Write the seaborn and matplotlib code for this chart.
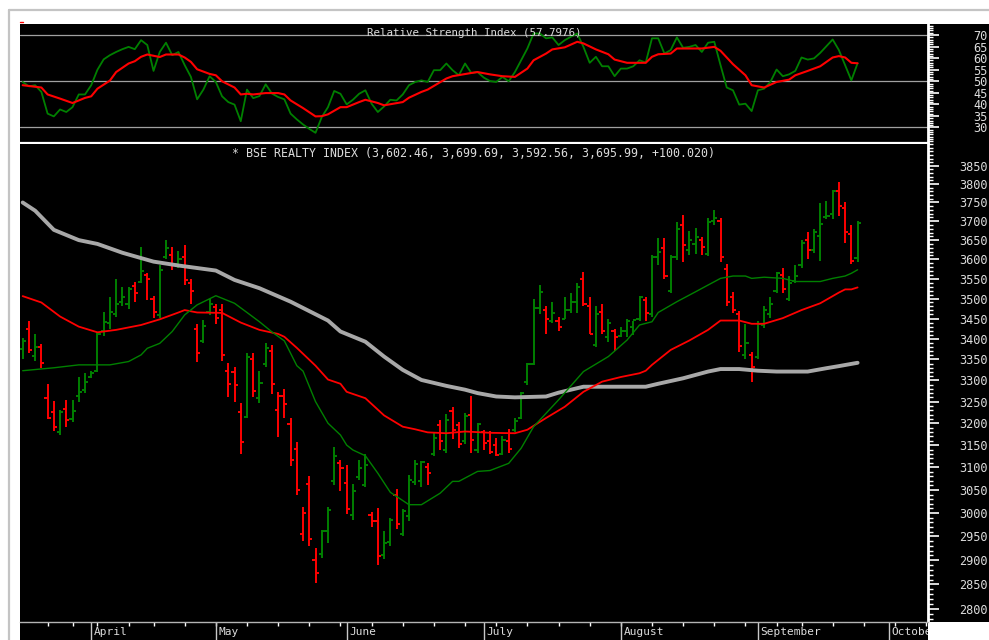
#bse realty daily bars with moving averages and RSI panel
import pandas as pd
import numpy as np
import matplotlib
matplotlib.use('Agg')
import matplotlib.pyplot as plt
import seaborn as sns
from matplotlib.ticker import FixedLocator, FuncFormatter, NullFormatter
from matplotlib.lines import Line2D
from matplotlib.patches import Rectangle
import warnings
warnings.filterwarnings('ignore')

# trading calendar (sessions are the x axis, holidays leave no gap)
first_session = '2010-03-16'
axis_end = '2010-10-12'
holidays = ['2010-03-24', '2010-04-02', '2010-04-14', '2010-09-10']

opens = [3376, 3425, 3358, 3380, 3258, 3225, 3180, 3232, 3210, 3262,
         3278, 3308, 3322, 3420, 3440, 3462, 3490, 3485, 3532, 3542,
         3560, 3498, 3458, 3605, 3612, 3588, 3605, 3540, 3425, 3395,
         3465, 3478, 3470, 3322, 3320, 3226, 3215, 3350, 3258, 3340,
         3370, 3230, 3262, 3198, 3141, 2955, 3063, 2900, 2912, 2961,
         3070, 3110, 3065, 2995, 3078, 3060, 2996, 2983, 2910, 2938,
         3040, 2955, 2993, 3068, 3070, 3100, 3130, 3195, 3140, 3228,
         3195, 3160, 3220, 3140, 3180, 3160, 3150, 3130, 3160, 3185,
         3212, 3295, 3340, 3475, 3470, 3445, 3445, 3450, 3470, 3490,
         3550, 3480, 3385, 3465, 3405, 3418, 3408, 3418, 3430, 3448,
         3495, 3462, 3605, 3630, 3520, 3605, 3690, 3625, 3640, 3650,
         3615, 3700, 3700, 3575, 3505, 3460, 3360, 3360, 3355, 3435,
         3460, 3520, 3560, 3500, 3545, 3585, 3650, 3625, 3660, 3710,
         3720, 3780, 3735, 3665, 3602.46]
highs = [3402, 3445, 3411, 3387, 3292, 3251, 3230, 3254, 3254, 3308,
         3318, 3322, 3417, 3466, 3503, 3550, 3530, 3530, 3542, 3632,
         3565, 3506, 3585, 3650, 3632, 3622, 3637, 3550, 3437, 3447,
         3500, 3487, 3487, 3342, 3332, 3246, 3366, 3366, 3322, 3390,
         3385, 3273, 3280, 3213, 3158, 3012, 3080, 2926, 2963, 3014,
         3145, 3117, 3106, 3063, 3117, 3130, 3002, 3010, 2961, 2990,
         3052, 3008, 3083, 3117, 3115, 3110, 3177, 3208, 3222, 3238,
         3203, 3224, 3263, 3201, 3185, 3183, 3167, 3171, 3186, 3211,
         3273, 3342, 3498, 3535, 3480, 3490, 3454, 3503, 3513, 3540,
         3568, 3503, 3482, 3487, 3450, 3423, 3428, 3450, 3445, 3506,
         3503, 3610, 3655, 3655, 3610, 3697, 3716, 3675, 3683, 3658,
         3708, 3729, 3708, 3587, 3516, 3469, 3437, 3368, 3445, 3480,
         3503, 3568, 3578, 3558, 3585, 3650, 3672, 3678, 3749, 3753,
         3785, 3805, 3751, 3690, 3699.69]
lows = [3350, 3366, 3347, 3330, 3210, 3183, 3173, 3192, 3203, 3250,
        3270, 3306, 3320, 3408, 3425, 3455, 3480, 3473, 3492, 3540,
        3497, 3452, 3452, 3600, 3572, 3578, 3535, 3485, 3345, 3390,
        3458, 3437, 3347, 3260, 3249, 3131, 3211, 3260, 3246, 3332,
        3268, 3169, 3213, 3102, 3038, 2940, 2930, 2853, 2905, 2937,
        3060, 3048, 2998, 2984, 3072, 3056, 2971, 2890, 2902, 2930,
        2966, 2951, 2983, 3061, 3056, 3061, 3125, 3138, 3132, 3165,
        3144, 3153, 3132, 3132, 3138, 3129, 3125, 3127, 3132, 3180,
        3210, 3290, 3337, 3460, 3413, 3440, 3418, 3449, 3464, 3464,
        3480, 3411, 3380, 3413, 3393, 3371, 3404, 3404, 3409, 3443,
        3443, 3455, 3585, 3550, 3513, 3597, 3593, 3610, 3615, 3610,
        3608, 3690, 3593, 3480, 3464, 3368, 3350, 3295, 3352, 3427,
        3452, 3513, 3513, 3493, 3540, 3578, 3600, 3617, 3595, 3705,
        3705, 3713, 3642, 3587, 3592.56]
closes = [3395, 3373, 3380, 3342, 3212, 3192, 3225, 3207, 3228, 3273,
          3297, 3318, 3412, 3442, 3467, 3487, 3503, 3524, 3514, 3570,
          3550, 3466, 3572, 3630, 3585, 3600, 3548, 3520, 3366, 3432,
          3487, 3452, 3361, 3292, 3288, 3157, 3356, 3274, 3294, 3378,
          3292, 3262, 3244, 3116, 3050, 3000, 2945, 2874, 2961, 3006,
          3125, 3099, 3008, 3048, 3099, 3106, 2983, 2908, 2935, 2986,
          2977, 3004, 3072, 3108, 3112, 3087, 3166, 3160, 3208, 3184,
          3153, 3217, 3162, 3198, 3155, 3135, 3127, 3162, 3141, 3205,
          3271, 3339, 3475, 3517, 3449, 3464, 3428, 3472, 3490, 3530,
          3485, 3413, 3460, 3420, 3440, 3405, 3420, 3445, 3447, 3503,
          3464, 3605, 3620, 3558, 3605, 3680, 3638, 3650, 3658, 3632,
          3697, 3708, 3605, 3491, 3472, 3383, 3390, 3332, 3437, 3472,
          3487, 3565, 3524, 3540, 3558, 3643, 3623, 3672, 3693, 3715,
          3780, 3740, 3672, 3595.97, 3695.99]

# moving averages (session number, value)
fast_sessions = [0, 5, 9, 14, 17, 19, 20, 22, 24, 26, 28, 31, 34, 36, 38, 40, 42,
                 44, 45, 47, 49, 51, 52, 53, 55, 57, 59, 62, 64, 67, 69, 70, 73,
                 75, 78, 80, 82, 86, 90, 94, 97, 99, 101, 102, 105, 108, 110, 112,
                 114, 116, 117, 119, 122, 124, 128, 130, 132, 133, 134]
ma_fast = [3323, 3330, 3337, 3337, 3345, 3361, 3377, 3389, 3418, 3459, 3484, 3507,
           3488, 3465, 3442, 3417, 3395, 3335, 3322, 3250, 3200, 3173, 3150, 3139,
           3126, 3087, 3045, 3018, 3018, 3043, 3069, 3069, 3091, 3093, 3109, 3143,
           3192, 3254, 3321, 3357, 3397, 3434, 3442, 3465, 3492, 3517, 3534, 3551,
           3557, 3557, 3551, 3554, 3551, 3543, 3543, 3551, 3557, 3564, 3573]
mid_sessions = [0, 3, 6, 9, 12, 15, 19, 22, 25, 26, 28, 32, 35, 38, 41, 42, 44,
                47, 49, 51, 52, 55, 58, 61, 63, 65, 68, 71, 75, 79, 81, 84, 87,
                90, 93, 96, 99, 100, 101, 102, 104, 107, 110, 112, 115, 117, 119,
                122, 125, 128, 131, 132, 133, 134]
ma_mid = [3506, 3490, 3455, 3430, 3416, 3422, 3434, 3448, 3465, 3471, 3465, 3464,
          3440, 3422, 3412, 3405, 3378, 3335, 3302, 3292, 3273, 3258, 3218, 3192,
          3186, 3179, 3177, 3181, 3178, 3177, 3185, 3212, 3238, 3273, 3297, 3308,
          3317, 3323, 3337, 3349, 3373, 3396, 3422, 3445, 3445, 3437, 3437, 3451,
          3471, 3488, 3515, 3523, 3523, 3528]
slow_sessions = [0, 2, 5, 9, 12, 16, 21, 25, 31, 34, 38, 43, 49, 51, 55, 58, 61,
                 64, 68, 71, 73, 76, 79, 84, 86, 90, 95, 100, 102, 106, 110, 112,
                 115, 118, 121, 126, 129, 131, 134]
ma_slow = [3750, 3728, 3677, 3650, 3640, 3617, 3594, 3584, 3571, 3547, 3526, 3492,
           3445, 3418, 3393, 3357, 3325, 3301, 3287, 3278, 3270, 3262, 3260, 3262,
           3271, 3285, 3285, 3285, 3292, 3305, 3321, 3327, 3327, 3323, 3321, 3321,
           3329, 3334, 3342]

rsi = [49.7, 47.8, 48.3, 45.4, 36.0, 34.8, 37.8, 36.7, 38.8, 44.3,
       44.3, 48.3, 55.0, 59.5, 61.3, 62.7, 63.9, 64.9, 63.9, 67.8,
       65.7, 54.5, 62.7, 66.7, 61.3, 62.7, 57.0, 51.9, 42.2, 46.4,
       52.2, 49.7, 43.5, 41.0, 39.9, 32.7, 46.4, 42.7, 43.6, 48.7,
       44.7, 43.2, 42.2, 36.0, 33.5, 31.3, 29.4, 27.7, 34.5, 38.8,
       45.8, 44.6, 40.0, 42.0, 44.6, 46.1, 40.3, 36.7, 39.1, 42.0,
       41.7, 44.3, 48.3, 49.7, 50.4, 49.7, 54.8, 54.8, 57.7, 54.8,
       52.6, 57.7, 53.6, 54.0, 51.6, 50.1, 49.7, 51.9, 50.0, 54.0,
       59.1, 64.2, 70.7, 70.7, 68.6, 69.0, 65.7, 67.8, 69.3, 70.7,
       64.9, 58.0, 60.6, 56.5, 56.5, 52.2, 55.5, 55.5, 56.5, 59.1,
       58.1, 68.6, 68.6, 62.0, 63.5, 69.0, 64.5, 64.9, 65.7, 62.7,
       66.7, 67.1, 57.0, 47.3, 46.1, 39.9, 40.3, 37.1, 46.1, 46.8,
       49.7, 55.1, 52.2, 53.0, 54.5, 60.3, 59.4, 59.9, 62.3, 65.2,
       68.1, 63.5, 57.0, 50.4, 57.7976]

sig_sessions = [0, 3, 4, 6, 8, 10, 11, 12, 14, 15, 17, 18, 19, 20, 22, 23, 25, 26,
                27, 28, 30, 31, 32, 34, 35, 36, 37, 39, 41, 42, 43, 45, 47, 48, 49,
                51, 52, 54, 55, 57, 58, 61, 62, 64, 65, 68, 69, 72, 73, 75, 77, 79,
                81, 82, 84, 85, 87, 89, 90, 92, 94, 95, 97, 100, 101, 102, 104, 105,
                109, 111, 112, 113, 114, 116, 117, 119, 121, 123, 124, 126, 128, 130,
                131, 132, 133, 134]
rsi_signal = [48.3, 47.3, 44.3, 42.5, 40.6, 42.8, 43.5, 46.8, 50.3, 54.0, 57.7, 58.7,
              60.6, 61.6, 60.5, 61.6, 61.6, 60.3, 58.4, 55.2, 53.2, 52.6, 50.0, 47.3,
              44.3, 44.6, 44.3, 44.9, 44.9, 44.3, 41.7, 38.4, 34.8, 34.9, 35.7, 38.8,
              38.8, 41.0, 42.0, 40.6, 39.6, 41.0, 42.9, 45.4, 46.4, 51.2, 52.2, 53.6,
              54.0, 53.0, 52.2, 51.9, 55.5, 59.1, 62.0, 63.8, 64.7, 67.1, 66.4, 63.8,
              61.7, 59.4, 58.0, 58.0, 60.6, 61.7, 62.0, 64.2, 64.2, 64.9, 63.2, 60.3,
              57.4, 52.6, 48.3, 47.3, 49.7, 50.7, 52.6, 54.5, 56.5, 60.3, 60.9, 60.3,
              58.0, 57.7976]

rsi_title = 'Relative Strength Index (57.7976)'
price_title = '* BSE REALTY INDEX (3,602.46, 3,699.69, 3,592.56, 3,695.99, +100.020)'
rsi_levels = [30, 50, 70]

GREEN = '#008000'
RED = '#ff0000'
GRAY = '#a8a8a8'
TXT = '#dcdcdc'

sns.set_theme(style='dark', rc={'axes.facecolor': 'black', 'figure.facecolor': 'white'})
plt.rcParams['font.family'] = ['DejaVu Sans Mono', 'DejaVu Sans']

cal = pd.bdate_range(first_session, axis_end, freq='C', holidays=holidays)
n = len(closes)
sess = pd.Series(np.arange(len(cal)), index=cal)
month_starts = sess.groupby([cal.year, cal.month]).first().iloc[1:]
week_starts = sess.groupby(cal.to_period('W')).first().iloc[1:]

bars = pd.DataFrame({'o': opens, 'h': highs, 'l': lows, 'c': closes})
bars['up'] = bars.c.diff().fillna(bars.c - bars.o) > 0
bar_cols = np.where(bars.up, GREEN, RED)
xs = np.arange(n)

fast = pd.DataFrame({'session': fast_sessions, 'v': ma_fast})
mid = pd.DataFrame({'session': mid_sessions, 'v': ma_mid})
slow = pd.DataFrame({'session': slow_sessions, 'v': ma_slow})
rs = pd.DataFrame({'session': xs, 'rsi': rsi})
sg = pd.DataFrame({'session': sig_sessions, 'sig': rsi_signal})

W, H = 989, 640
fig = plt.figure(figsize=(W/100, H/100), dpi=100)

def panel(left, top, right, bottom):
    return fig.add_axes([left/W, 1-bottom/H, (right-left)/W, (bottom-top)/H])

# black backdrop incl. the right scale strip
fig.patches.append(Rectangle((20/W, 1-622/H), (W-20)/W, 598/H, transform=fig.transFigure,
                             facecolor='black', edgecolor='none', zorder=-5))
fig.add_artist(Line2D([9/W, 9/W], [1-10/H, 0], transform=fig.transFigure, color='#c4c4c4', lw=1.6))
fig.add_artist(Line2D([9/W, 1], [1-10/H, 1-10/H], transform=fig.transFigure, color='#c4c4c4', lw=1.6))
fig.add_artist(Line2D([20/W, 23/W], [1-22/H, 1-22/H], transform=fig.transFigure, color=RED, lw=1))

ax_r = panel(20, 24, 928, 142.5)
ax_p = panel(20, 144, 928, 622)
ax_d = panel(20, 622, 928, 640)
xlim = (-0.43, 145.3)

for a in (ax_r, ax_p, ax_d):
    a.set_facecolor('black')
    a.set_xlim(*xlim)
    a.grid(False)
    for s in a.spines.values():
        s.set_visible(False)

# ---- RSI panel
for lv in rsi_levels:
    ax_r.axhline(lv, color='#a0a0a0', lw=0.9, zorder=1)
sns.lineplot(data=rs, x='session', y='rsi', ax=ax_r, color=GREEN, lw=1.3, zorder=3)
sns.lineplot(data=sg, x='session', y='sig', ax=ax_r, color=RED, lw=1.5, zorder=4)
ax_r.set_ylim(23.5, 74.8)
ax_r.text(0.5, 0.925, rsi_title, transform=ax_r.transAxes, ha='center', va='center',
          color=TXT, fontsize=7.8)
ax_r.spines['bottom'].set_visible(True)
ax_r.spines['bottom'].set_color('white')
ax_r.spines['bottom'].set_linewidth(1.6)
ax_r.yaxis.set_major_locator(FixedLocator(np.arange(30, 71, 5)))
ax_r.yaxis.set_minor_locator(FixedLocator(np.arange(24, 75, 1)))

# ---- price panel
ax_p.vlines(xs, bars.l, bars.h, colors=bar_cols, lw=1.4, zorder=2)
ax_p.hlines(bars.o, xs - 0.5, xs, colors=bar_cols, lw=1.4, zorder=2)
ax_p.hlines(bars.c, xs, xs + 0.5, colors=bar_cols, lw=1.4, zorder=2)
sns.lineplot(data=slow, x='session', y='v', ax=ax_p, color=GRAY, lw=2.8, zorder=3)
sns.lineplot(data=mid, x='session', y='v', ax=ax_p, color=RED, lw=1.3, zorder=4)
sns.lineplot(data=fast, x='session', y='v', ax=ax_p, color=GREEN, lw=1.0, zorder=4)
ax_p.set_yscale('log')
ax_p.set_ylim(2774, 3911)
ax_p.text(0.5, 0.981, price_title, transform=ax_p.transAxes, ha='center', va='center',
          color=TXT, fontsize=8.4)
ax_p.yaxis.set_major_locator(FixedLocator(np.arange(2800, 3851, 50)))
ax_p.yaxis.set_minor_locator(FixedLocator(np.arange(2780, 3911, 10)))
ax_p.yaxis.set_minor_formatter(NullFormatter())

# right hand scale
for a in (ax_r, ax_p):
    a.set_xlabel('')
    a.set_ylabel('')
    a.set_xticks([])
    a.yaxis.tick_right()
    a.spines['right'].set_visible(True)
    a.spines['right'].set_color('white')
    a.spines['right'].set_linewidth(2)
    a.yaxis.set_major_formatter(FuncFormatter(lambda v, p: '%d' % v))
    a.tick_params(axis='y', which='major', direction='out', length=8, width=1.2,
                  color='white', labelcolor=TXT, labelsize=8.6, pad=35)
    a.tick_params(axis='y', which='minor', direction='out', length=3.6, width=1.0, color='white')
    for lab in a.get_yticklabels():
        lab.set_horizontalalignment('right')

# ---- date strip
ax_d.set_ylim(0, 1)
ax_d.set_yticks([])
ax_d.set_xticks([])
ax_d.spines['top'].set_visible(True)
ax_d.spines['top'].set_color('#b4b4b4')
ax_d.spines['top'].set_linewidth(1)
ax_d.xaxis.set_minor_locator(FixedLocator(week_starts.values))
ax_d.tick_params(axis='x', which='minor', direction='in', top=True, bottom=False,
                 length=3, width=1, color='white')
for (yr, mo), s in month_starts.items():
    ax_d.axvline(s, color='#c8c8c8', lw=1)
    ax_d.text(s + 0.45, 0.42, cal[s].strftime('%B'), color=TXT, fontsize=8,
              ha='left', va='center', clip_on=True)

plt.savefig('out.png', dpi=100, facecolor='white')
